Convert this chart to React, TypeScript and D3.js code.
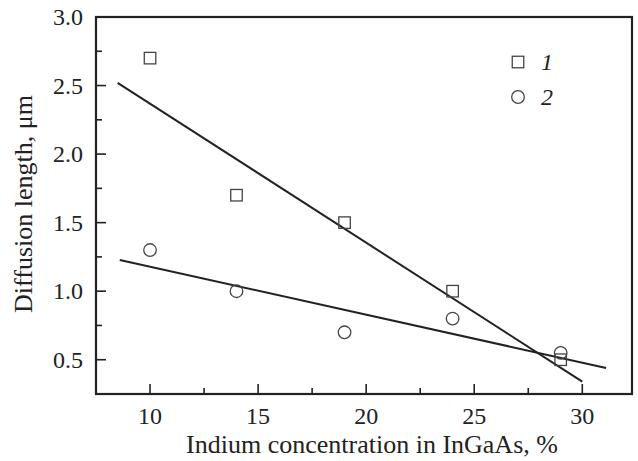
import React from "react";
import * as d3 from "d3";

const xTicks = [10, 15, 20, 25, 30];
const xMinor = [12.5, 17.5, 22.5, 27.5];
const yTicks = [0.5, 1.0, 1.5, 2.0, 2.5, 3.0];
const yMinor = [0.75, 1.25, 1.75, 2.25, 2.75];

const indium = [10, 14, 19, 24, 29];
const series1 = [2.7, 1.7, 1.5, 1.0, 0.5];
const series2 = [1.3, 1.0, 0.7, 0.8, 0.55];

const fit1X = [8.5, 30.0];
const fit1Y = [2.52, 0.34];
const fit2X = [8.6, 31.1];
const fit2Y = [1.227, 0.44];

const W = 638, H = 461;
const L = 96, R = 632, T = 17, B = 394;
const FONT = "Liberation Serif, Times New Roman, Times, serif";

export default function App() {
  const x = d3.scaleLinear().domain([7.5, 32.3]).range([L, R]);
  const y = d3.scaleLinear().domain([0.25, 3.0]).range([B, T]);
  const line = d3.line<[number, number]>().x(d => x(d[0])).y(d => y(d[1]));
  const f1: [number, number][] = fit1X.map((v, i) => [v, fit1Y[i]]);
  const f2: [number, number][] = fit2X.map((v, i) => [v, fit2Y[i]]);
  const ink = "#222";
  const mk = "#444";
  const s = 11.5;
  const ts = { fontFamily: FONT };
  return (
    <svg width={W} height={H} style={{ position: "absolute", left: 0, top: 0, background: "#fff", fontFamily: FONT }}>
      <rect x={0} y={0} width={W} height={H} fill="#fff" />
      {xTicks.map(t => (
        <line key={"xt" + t} x1={x(t)} x2={x(t)} y1={B} y2={B - 10} stroke={ink} strokeWidth={1.6} />
      ))}
      {xMinor.map(t => (
        <line key={"xm" + t} x1={x(t)} x2={x(t)} y1={B} y2={B - 6} stroke={ink} strokeWidth={1.6} />
      ))}
      {yTicks.map(t => (
        <line key={"yt" + t} x1={L} x2={L + 10} y1={y(t)} y2={y(t)} stroke={ink} strokeWidth={1.6} />
      ))}
      {yMinor.map(t => (
        <line key={"ym" + t} x1={L} x2={L + 6} y1={y(t)} y2={y(t)} stroke={ink} strokeWidth={1.6} />
      ))}
      <rect x={L} y={T} width={R - L} height={B - T} fill="none" stroke={ink} strokeWidth={2.2} />
      {xTicks.map(t => (
        <text key={"xl" + t} x={x(t)} y={424} textAnchor="middle" style={ts} fontSize={24} fill={ink}>
          {t}
        </text>
      ))}
      {yTicks.map(t => (
        <text key={"yl" + t} x={83} y={y(t) + 8} textAnchor="end" style={ts} fontSize={24} fill={ink}>
          {t.toFixed(1)}
        </text>
      ))}
      <text x={372} y={453} textAnchor="middle" style={ts} fontSize={26} fill={ink}>
        Indium concentration in InGaAs, %
      </text>
      <text transform={`translate(32, 204) rotate(-90)`} textAnchor="middle" style={ts} fontSize={26} fill={ink}>
        Diffusion length, μm
      </text>
      <path d={line(f1) || ""} fill="none" stroke={ink} strokeWidth={2} />
      <path d={line(f2) || ""} fill="none" stroke={ink} strokeWidth={2} />
      {indium.map((v, i) => (
        <rect key={"s" + i} x={x(v) - s / 2} y={y(series1[i]) - s / 2} width={s} height={s} fill="none" stroke={mk} strokeWidth={1.3} />
      ))}
      {indium.map((v, i) => (
        <circle key={"c" + i} cx={x(v)} cy={y(series2[i])} r={6.3} fill="none" stroke={mk} strokeWidth={1.3} />
      ))}
      <rect x={518 - s / 2} y={62 - s / 2} width={s} height={s} fill="none" stroke={mk} strokeWidth={1.3} />
      <circle cx={518} cy={97} r={6.3} fill="none" stroke={mk} strokeWidth={1.3} />
      <text x={541} y={70} style={ts} fontStyle="italic" fontSize={24} fill={ink}>1</text>
      <text x={541} y={105} style={ts} fontStyle="italic" fontSize={24} fill={ink}>2</text>
    </svg>
  );
}
